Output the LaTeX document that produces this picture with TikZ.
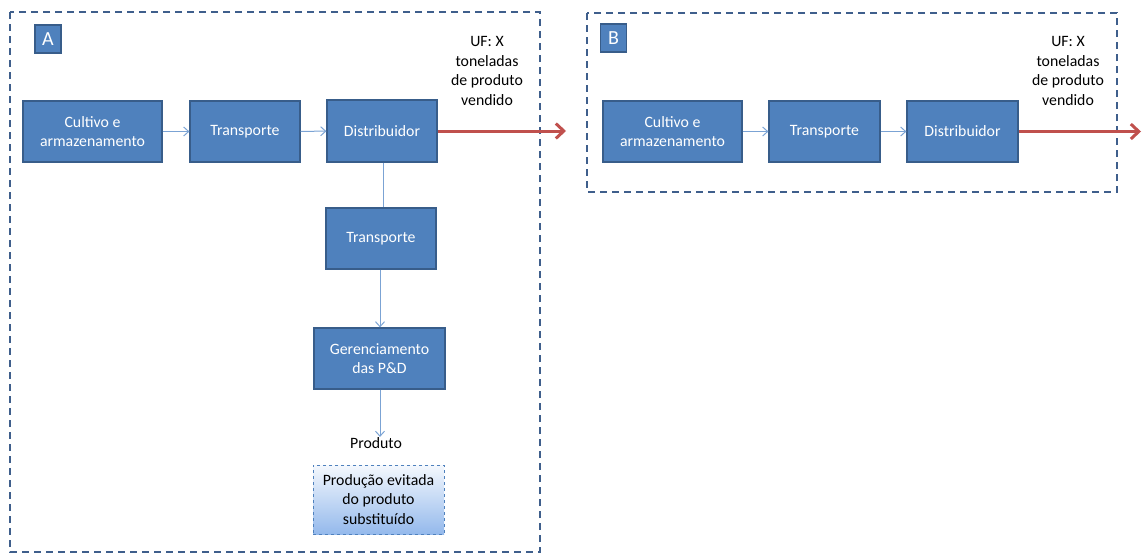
\documentclass[tikz,border=0pt]{standalone}
\usepackage{fontspec}
\setmainfont{Carlito}
\usetikzlibrary{arrows.meta}
\definecolor{boxfill}{HTML}{4F81BD}
\definecolor{boxline}{HTML}{385D8A}
\definecolor{frameline}{HTML}{3F5F8C}
\definecolor{linkcol}{HTML}{7BA3D4}
\definecolor{redarrow}{HTML}{C0504D}
\definecolor{gradtop}{HTML}{F4F8FD}
\definecolor{gradbot}{HTML}{94B9EC}
\tikzset{
  x=1pt, y=-1pt,
  procbox/.style={draw=boxline, line width=1.2pt, fill=boxfill, text=white, align=center,
    font=\fontsize{15.8}{19.5}\selectfont, inner sep=2pt},
  letterbox/.style={draw=boxline, line width=1.2pt, fill=boxfill, text=white,
    minimum width=26pt, minimum height=28pt, font=\fontsize{20}{22}\selectfont, inner sep=0pt},
  frame/.style={draw=frameline, line width=1.6pt, dash pattern=on 7pt off 5pt},
  link/.style={draw=linkcol, line width=1pt, -{Straight Barb[length=5pt,width=9pt]}},
  plainlink/.style={draw=linkcol, line width=1pt},
  mainout/.style={draw=redarrow, line width=3pt, -{Straight Barb[length=8pt,width=15pt]}},
  uftext/.style={align=center, font=\fontsize{15.8}{19.5}\selectfont, text=black},
  plaintext/.style={font=\fontsize{15.8}{19.5}\selectfont, text=black},
  avoided/.style={draw=boxfill, line width=0.8pt, dashed, top color=gradtop, bottom color=gradbot,
    align=center, font=\fontsize{15.8}{19.5}\selectfont, text=black, inner sep=2pt},
}
\begin{document}
\begin{tikzpicture}
\useasboundingbox (0,0) rectangle (1142,554);
% frames
\draw[frame] (10,12) rectangle (540,552);
\draw[frame] (587,13) rectangle (1117,192);
% letter boxes
\node[letterbox] (la) at (48,39) {A};
\node[letterbox] (lb) at (613.5,38) {B};
% A chain
\node[procbox, minimum width=139pt, minimum height=61pt] (a1) at (92.5,131.5) {Cultivo e\\armazenamento};
\node[procbox, minimum width=110pt, minimum height=61pt] (a2) at (245,131.5) {Transporte};
\node[procbox, minimum width=110pt, minimum height=62pt] (a3) at (382,131) {Distribuidor};
\node[procbox, minimum width=110pt, minimum height=61pt] (a4) at (381,238.5) {Transporte};
\node[procbox, minimum width=131pt, minimum height=61pt] (a5) at (379.5,358.5) {Gerenciamento\\das P\&D};
\node[plaintext] (prod) at (376,443) {Produto};
\node[avoided, minimum width=131pt, minimum height=69pt] (a6) at (378.5,499.5) {Produção evitada\\do produto\\substituído};
\node[uftext] (ufa) at (487,71) {UF: X\\toneladas\\de produto\\vendido};
\coordinate (outa) at (566,131);
\draw[link] (a1) -- (a2);
\draw[link] (a2) -- (a3);
\draw[plainlink] (a3.south -| 383,0) -- (a4.north -| 383,0);
\draw[link] (a4.south -| 380,0) -- (a5.north -| 380,0);
\draw[link] (a5.south -| 380,0) -- ([yshift=-3pt]prod.north -| 380,0);
\draw[mainout] (a3.east) -- (outa);
% B chain
\node[procbox, minimum width=139pt, minimum height=61pt] (b1) at (672.5,131.5) {Cultivo e\\armazenamento};
\node[procbox, minimum width=111pt, minimum height=61pt] (b2) at (824.5,131.5) {Transporte};
\node[procbox, minimum width=111pt, minimum height=61pt] (b3) at (962.5,131.5) {Distribuidor};
\node[uftext] (ufb) at (1068,71) {UF: X\\toneladas\\de produto\\vendido};
\coordinate (outb) at (1141,131.5);
\draw[link] (b1) -- (b2);
\draw[link] (b2) -- (b3);
\draw[mainout] (b3.east) -- (outb);
\end{tikzpicture}
\end{document}
